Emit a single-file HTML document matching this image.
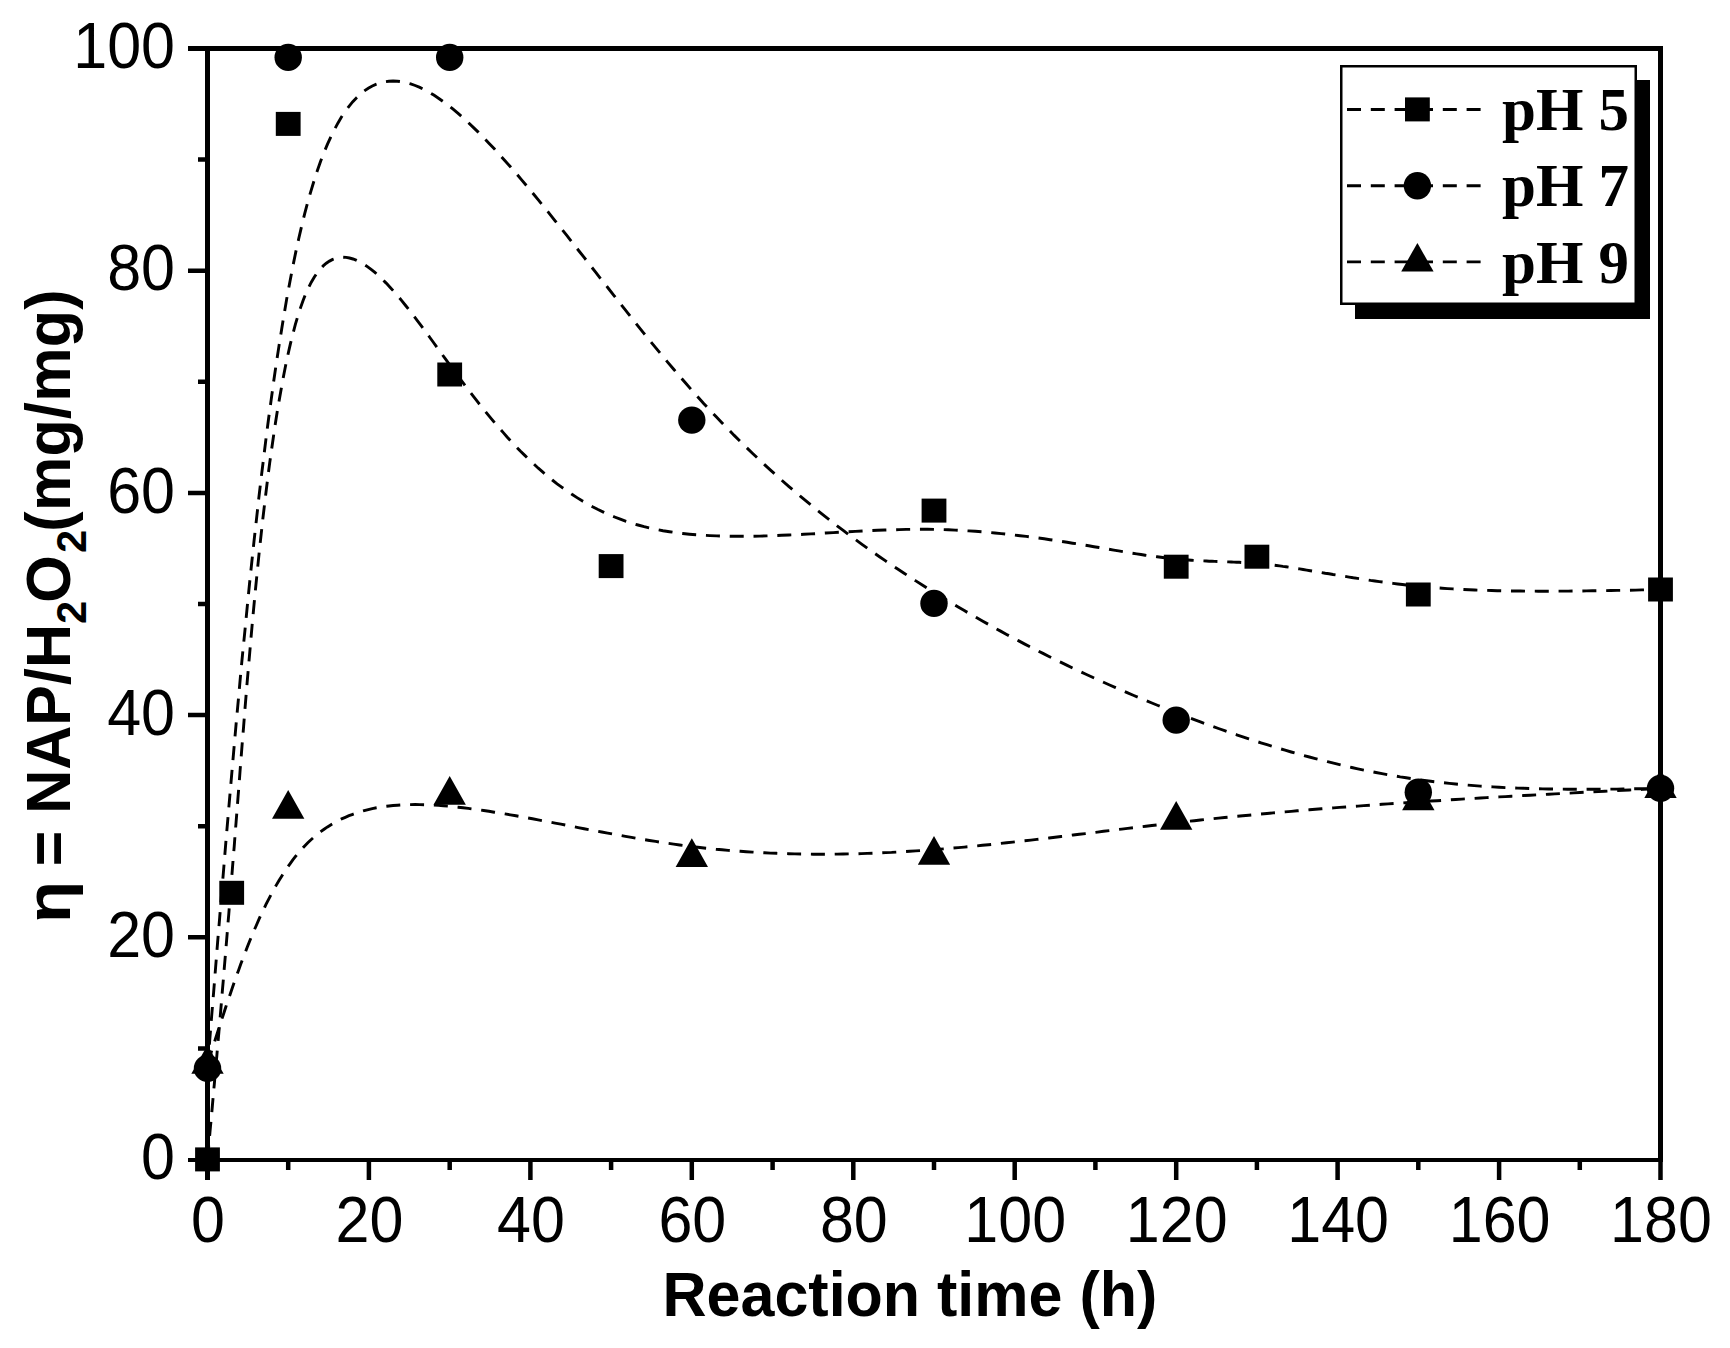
<!DOCTYPE html>
<html lang="en"><head><meta charset="utf-8"><title>NAP/H2O2 efficiency vs reaction time</title>
<style>html,body{margin:0;padding:0;background:#fff}body{width:1730px;height:1348px;overflow:hidden}svg{display:block}.t{font-family:"Liberation Sans",Arial,sans-serif;font-size:61px;fill:#000}.b{font-family:"Liberation Sans",Arial,sans-serif;font-size:61px;font-weight:bold;fill:#000}.l{font-family:"Liberation Serif","Times New Roman",serif;font-size:61px;font-weight:bold;fill:#000}.d{fill:none;stroke:#000;stroke-width:2.9;stroke-dasharray:14 9.8;stroke-linecap:butt}</style></head><body>
<svg width="1730" height="1348" viewBox="0 0 1730 1348">
<rect width="1730" height="1348" fill="#fff"/>
<g class="d">
<path d="M207.5,1159.5 L208.1,1152.8 L208.7,1146.2 L209.3,1139.5 L209.9,1132.8 L210.5,1126.0 L211.2,1119.2 L211.8,1112.4 L212.4,1105.5 L213.0,1098.6 L213.6,1091.5 L214.3,1084.4 L214.9,1077.2 L215.6,1070.0 L216.2,1062.6 L216.9,1055.1 L217.5,1047.5 L218.2,1039.8 L218.9,1031.9 L219.6,1023.9 L220.3,1015.7 L221.0,1007.4 L221.7,998.9 L222.4,990.3 L223.2,981.4 L223.9,972.4 L224.7,963.2 L225.5,953.8 L226.3,944.1 L227.1,934.3 L227.9,924.2 L228.8,913.9 L229.6,903.3 L230.5,892.5 L231.4,881.5 L232.3,870.1 L233.2,858.5 L234.2,846.6 L235.1,834.4 L236.1,822.0 L237.1,809.2 L238.1,796.1 L239.2,782.7 L240.2,769.0 L241.3,755.1 L242.4,741.0 L243.6,726.7 L244.7,712.2 L245.9,697.6 L247.1,682.9 L248.4,668.0 L249.7,653.1 L251.0,638.1 L252.3,623.1 L253.7,608.1 L255.1,593.1 L256.6,578.1 L258.1,563.2 L259.6,548.5 L261.2,533.8 L262.8,519.2 L264.5,504.8 L266.2,490.7 L267.9,476.7 L269.7,462.9 L271.6,449.4 L273.5,436.2 L275.4,423.3 L277.4,410.7 L279.5,398.5 L281.6,386.6 L283.7,375.2 L285.9,364.1 L288.2,353.5 L290.5,343.4 L292.9,333.8 L295.3,324.7 L297.8,316.1 L300.4,308.1 L303.0,300.7 L305.7,293.9 L308.5,287.8 L311.3,282.2 L314.2,277.3 L317.1,272.9 L320.1,269.2 L323.2,265.9 L326.3,263.2 L329.5,261.1 L332.7,259.4 L336.0,258.2 L339.3,257.5 L342.7,257.2 L346.1,257.4 L349.5,258.0 L353.0,259.0 L356.6,260.3 L360.2,262.1 L363.8,264.2 L367.4,266.6 L371.1,269.3 L374.9,272.4 L378.6,275.7 L382.4,279.3 L386.2,283.1 L390.0,287.2 L393.9,291.5 L397.8,296.0 L401.7,300.6 L405.6,305.5 L409.6,310.5 L413.5,315.6 L417.5,320.8 L421.5,326.1 L425.5,331.5 L429.5,337.0 L433.5,342.5 L437.6,348.1 L441.6,353.7 L445.6,359.2 L449.7,364.8 L453.7,370.3 L457.7,375.7 L461.8,381.2 L465.8,386.5 L469.9,391.9 L474.0,397.2 L478.1,402.4 L482.2,407.6 L486.3,412.7 L490.4,417.7 L494.6,422.7 L498.8,427.6 L503.1,432.4 L507.3,437.2 L511.6,441.9 L516.0,446.5 L520.3,451.0 L524.8,455.4 L529.2,459.8 L533.8,464.0 L538.3,468.2 L542.9,472.2 L547.6,476.2 L552.3,480.0 L557.1,483.8 L562.0,487.4 L566.9,490.9 L571.9,494.3 L577.0,497.6 L582.1,500.8 L587.3,503.8 L592.6,506.7 L598.0,509.5 L603.4,512.1 L609.0,514.7 L614.6,517.0 L620.3,519.2 L626.1,521.3 L632.0,523.2 L638.0,525.0 L644.1,526.7 L650.3,528.1 L656.6,529.5 L663.0,530.7 L669.5,531.7 L676.0,532.7 L682.7,533.5 L689.4,534.2 L696.1,534.8 L703.0,535.2 L709.9,535.6 L716.8,535.9 L723.9,536.1 L730.9,536.3 L738.1,536.3 L745.2,536.3 L752.4,536.2 L759.7,536.1 L766.9,535.9 L774.2,535.6 L781.6,535.3 L788.9,535.0 L796.3,534.7 L803.7,534.3 L811.0,533.9 L818.4,533.5 L825.8,533.0 L833.2,532.6 L840.6,532.2 L848.0,531.8 L855.4,531.4 L862.7,531.0 L870.1,530.6 L877.4,530.3 L884.7,530.0 L891.9,529.8 L899.1,529.6 L906.3,529.4 L913.5,529.3 L920.5,529.3 L927.6,529.3 L934.6,529.4 L941.5,529.6 L948.4,529.8 L955.2,530.1 L962.0,530.5 L968.7,530.9 L975.3,531.3 L981.9,531.8 L988.4,532.4 L994.9,533.0 L1001.3,533.6 L1007.6,534.3 L1013.9,535.0 L1020.1,535.7 L1026.2,536.4 L1032.3,537.2 L1038.3,538.0 L1044.2,538.8 L1050.0,539.7 L1055.8,540.5 L1061.5,541.4 L1067.1,542.3 L1072.6,543.2 L1078.1,544.0 L1083.4,544.9 L1088.7,545.8 L1093.9,546.7 L1099.0,547.5 L1104.1,548.4 L1109.0,549.2 L1113.8,550.1 L1118.6,550.9 L1123.3,551.7 L1127.8,552.4 L1132.3,553.2 L1136.7,553.9 L1141.0,554.5 L1145.2,555.2 L1149.3,555.8 L1153.2,556.3 L1157.1,556.8 L1160.9,557.3 L1164.6,557.8 L1168.3,558.2 L1171.8,558.5 L1175.3,558.9 L1178.6,559.2 L1182.0,559.5 L1185.2,559.8 L1188.4,560.0 L1191.5,560.2 L1194.6,560.4 L1197.6,560.6 L1200.6,560.8 L1203.5,560.9 L1206.4,561.0 L1209.2,561.2 L1212.1,561.3 L1214.8,561.4 L1217.6,561.5 L1220.3,561.6 L1223.1,561.7 L1225.8,561.8 L1228.5,561.9 L1231.2,562.0 L1233.9,562.1 L1236.6,562.2 L1239.3,562.3 L1242.0,562.5 L1244.7,562.6 L1247.4,562.8 L1250.2,562.9 L1252.9,563.1 L1255.8,563.3 L1258.6,563.6 L1261.5,563.8 L1264.4,564.1 L1267.3,564.4 L1270.3,564.7 L1273.4,565.1 L1276.5,565.5 L1279.6,565.9 L1282.9,566.4 L1286.1,566.8 L1289.4,567.3 L1292.8,567.8 L1296.2,568.4 L1299.6,568.9 L1303.1,569.5 L1306.7,570.1 L1310.3,570.7 L1314.0,571.3 L1317.7,571.9 L1321.4,572.5 L1325.2,573.2 L1329.1,573.8 L1333.0,574.5 L1337.0,575.1 L1341.0,575.8 L1345.0,576.4 L1349.1,577.1 L1353.3,577.8 L1357.5,578.4 L1361.8,579.1 L1366.1,579.7 L1370.5,580.4 L1374.9,581.0 L1379.3,581.6 L1383.9,582.2 L1388.4,582.8 L1393.0,583.4 L1397.7,584.0 L1402.4,584.5 L1407.2,585.1 L1412.0,585.6 L1416.9,586.1 L1421.8,586.6 L1426.8,587.0 L1431.8,587.4 L1437.0,587.8 L1442.2,588.2 L1447.5,588.6 L1452.9,588.9 L1458.3,589.2 L1463.7,589.5 L1469.2,589.7 L1474.8,590.0 L1480.3,590.2 L1486.0,590.3 L1491.6,590.5 L1497.3,590.7 L1503.0,590.8 L1508.8,590.9 L1514.6,591.0 L1520.4,591.0 L1526.3,591.1 L1532.2,591.1 L1538.1,591.2 L1544.1,591.2 L1550.0,591.2 L1556.1,591.1 L1562.1,591.1 L1568.1,591.1 L1574.2,591.0 L1580.3,591.0 L1586.4,590.9 L1592.5,590.8 L1598.6,590.7 L1604.8,590.6 L1610.9,590.5 L1617.1,590.4 L1623.3,590.3 L1629.5,590.2 L1635.7,590.1 L1641.9,589.9 L1648.1,589.8 L1654.3,589.7 L1660.5,589.6"/>
<path d="M207.5,1068.4 L209.5,1043.1 L211.5,1017.9 L213.6,992.6 L215.6,967.5 L217.6,942.4 L219.7,917.3 L221.7,892.4 L223.8,867.5 L225.8,842.8 L227.9,818.3 L230.0,793.9 L232.1,769.6 L234.2,745.6 L236.3,721.8 L238.5,698.2 L240.6,674.8 L242.8,651.7 L245.1,628.8 L247.3,606.2 L249.5,584.0 L251.8,562.0 L254.1,540.4 L256.5,519.1 L258.8,498.2 L261.2,477.7 L263.7,457.5 L266.1,437.8 L268.6,418.5 L271.2,399.6 L273.7,381.2 L276.3,363.3 L279.0,345.9 L281.7,328.9 L284.4,312.5 L287.1,296.6 L290.0,281.3 L292.8,266.6 L295.7,252.4 L298.7,238.8 L301.7,225.9 L304.7,213.6 L307.8,201.9 L311.0,190.8 L314.2,180.3 L317.4,170.4 L320.7,161.1 L324.1,152.3 L327.5,144.1 L331.0,136.5 L334.5,129.4 L338.0,122.9 L341.6,116.8 L345.3,111.3 L349.0,106.3 L352.8,101.7 L356.6,97.7 L360.4,94.1 L364.3,90.9 L368.3,88.2 L372.3,86.0 L376.4,84.2 L380.5,82.8 L384.6,81.8 L388.9,81.2 L393.1,81.0 L397.4,81.2 L401.8,81.8 L406.2,82.7 L410.7,83.9 L415.2,85.5 L419.8,87.4 L424.4,89.7 L429.0,92.2 L433.8,95.1 L438.5,98.2 L443.3,101.6 L448.2,105.3 L453.1,109.2 L458.1,113.4 L463.1,117.8 L468.2,122.5 L473.3,127.4 L478.5,132.4 L483.7,137.7 L488.9,143.2 L494.3,148.8 L499.6,154.7 L505.0,160.7 L510.4,166.8 L515.9,173.1 L521.4,179.6 L526.9,186.1 L532.5,192.8 L538.1,199.7 L543.8,206.6 L549.4,213.6 L555.1,220.8 L560.9,228.0 L566.6,235.2 L572.4,242.6 L578.2,250.0 L584.1,257.4 L589.9,264.9 L595.8,272.4 L601.7,280.0 L607.7,287.5 L613.6,295.1 L619.5,302.7 L625.5,310.2 L631.5,317.8 L637.5,325.3 L643.5,332.8 L649.5,340.2 L655.6,347.6 L661.6,354.9 L667.6,362.1 L673.7,369.3 L679.7,376.4 L685.8,383.3 L691.8,390.2 L697.9,397.0 L703.9,403.7 L710.0,410.2 L716.0,416.6 L722.1,423.0 L728.2,429.2 L734.2,435.4 L740.3,441.4 L746.3,447.3 L752.4,453.2 L758.4,458.9 L764.5,464.6 L770.5,470.1 L776.6,475.6 L782.6,481.0 L788.7,486.3 L794.8,491.5 L800.8,496.6 L806.9,501.7 L812.9,506.7 L819.0,511.6 L825.0,516.4 L831.1,521.1 L837.1,525.8 L843.2,530.4 L849.2,535.0 L855.3,539.4 L861.3,543.8 L867.4,548.2 L873.5,552.5 L879.5,556.7 L885.6,560.9 L891.6,565.0 L897.7,569.0 L903.7,573.0 L909.8,577.0 L915.8,580.9 L921.9,584.7 L927.9,588.6 L934.0,592.3 L940.1,596.1 L946.1,599.8 L952.2,603.4 L958.2,607.0 L964.3,610.6 L970.3,614.1 L976.4,617.6 L982.4,621.0 L988.5,624.4 L994.5,627.8 L1000.6,631.1 L1006.6,634.4 L1012.7,637.7 L1018.8,640.9 L1024.8,644.1 L1030.9,647.2 L1036.9,650.3 L1043.0,653.4 L1049.0,656.5 L1055.1,659.5 L1061.1,662.4 L1067.2,665.4 L1073.2,668.3 L1079.3,671.1 L1085.4,674.0 L1091.4,676.8 L1097.5,679.5 L1103.5,682.3 L1109.6,685.0 L1115.6,687.6 L1121.7,690.3 L1127.7,692.9 L1133.8,695.5 L1139.8,698.0 L1145.9,700.5 L1151.9,703.0 L1158.0,705.5 L1164.1,707.9 L1170.1,710.3 L1176.2,712.7 L1182.2,715.0 L1188.3,717.4 L1194.3,719.6 L1200.4,721.9 L1206.4,724.1 L1212.5,726.3 L1218.5,728.5 L1224.6,730.6 L1230.7,732.8 L1236.7,734.8 L1242.8,736.9 L1248.8,738.9 L1254.9,740.9 L1260.9,742.8 L1267.0,744.7 L1273.0,746.6 L1279.1,748.4 L1285.1,750.2 L1291.2,752.0 L1297.2,753.7 L1303.3,755.4 L1309.4,757.0 L1315.4,758.6 L1321.5,760.2 L1327.5,761.7 L1333.6,763.2 L1339.6,764.7 L1345.7,766.1 L1351.7,767.5 L1357.8,768.8 L1363.8,770.1 L1369.9,771.3 L1376.0,772.5 L1382.0,773.7 L1388.1,774.8 L1394.1,775.8 L1400.2,776.9 L1406.2,777.8 L1412.3,778.8 L1418.3,779.6 L1424.5,780.5 L1430.7,781.3 L1437.0,782.0 L1443.2,782.7 L1449.4,783.4 L1455.6,784.0 L1461.8,784.6 L1468.0,785.1 L1474.2,785.6 L1480.4,786.1 L1486.6,786.5 L1492.8,786.9 L1499.1,787.3 L1505.3,787.6 L1511.5,787.9 L1517.7,788.1 L1523.9,788.3 L1530.1,788.5 L1536.3,788.7 L1542.5,788.9 L1548.7,789.0 L1554.9,789.1 L1561.1,789.1 L1567.4,789.2 L1573.6,789.2 L1579.8,789.3 L1586.0,789.3 L1592.2,789.2 L1598.4,789.2 L1604.6,789.2 L1610.8,789.1 L1617.0,789.1 L1623.2,789.0 L1629.4,788.9 L1635.7,788.8 L1641.9,788.7 L1648.1,788.6 L1654.3,788.5 L1660.5,788.4"/>
<path d="M207.5,1064.0 L209.5,1057.6 L211.5,1051.2 L213.6,1044.8 L215.6,1038.5 L217.6,1032.2 L219.7,1025.8 L221.7,1019.5 L223.8,1013.3 L225.8,1007.0 L227.9,1000.8 L230.0,994.7 L232.1,988.5 L234.2,982.5 L236.3,976.4 L238.5,970.5 L240.6,964.5 L242.8,958.7 L245.1,952.9 L247.3,947.1 L249.5,941.5 L251.8,935.9 L254.1,930.4 L256.5,925.0 L258.8,919.6 L261.2,914.4 L263.7,909.3 L266.1,904.2 L268.6,899.3 L271.2,894.4 L273.7,889.7 L276.3,885.1 L279.0,880.5 L281.7,876.2 L284.4,871.9 L287.1,867.8 L290.0,863.8 L292.8,859.9 L295.7,856.2 L298.7,852.6 L301.7,849.2 L304.7,845.9 L307.8,842.7 L311.0,839.7 L314.2,836.9 L317.4,834.2 L320.7,831.6 L324.1,829.2 L327.5,826.9 L331.0,824.7 L334.5,822.7 L338.0,820.7 L341.6,818.9 L345.3,817.3 L349.0,815.7 L352.8,814.3 L356.6,812.9 L360.4,811.7 L364.3,810.6 L368.3,809.6 L372.3,808.6 L376.4,807.8 L380.5,807.1 L384.6,806.5 L388.9,806.0 L393.1,805.5 L397.4,805.2 L401.8,804.9 L406.2,804.7 L410.7,804.6 L415.2,804.5 L419.8,804.6 L424.4,804.7 L429.0,804.9 L433.8,805.1 L438.5,805.4 L443.3,805.8 L448.2,806.2 L453.1,806.7 L458.1,807.2 L463.1,807.8 L468.2,808.4 L473.3,809.1 L478.5,809.8 L483.7,810.5 L488.9,811.3 L494.3,812.2 L499.6,813.0 L505.0,813.9 L510.4,814.9 L515.9,815.8 L521.4,816.8 L526.9,817.8 L532.5,818.8 L538.1,819.9 L543.8,821.0 L549.4,822.0 L555.1,823.1 L560.9,824.2 L566.6,825.3 L572.4,826.4 L578.2,827.6 L584.1,828.7 L589.9,829.8 L595.8,830.9 L601.7,832.0 L607.7,833.1 L613.6,834.2 L619.5,835.3 L625.5,836.4 L631.5,837.4 L637.5,838.5 L643.5,839.5 L649.5,840.5 L655.6,841.4 L661.6,842.4 L667.6,843.3 L673.7,844.1 L679.7,845.0 L685.8,845.8 L691.8,846.6 L697.9,847.3 L703.9,848.0 L710.0,848.6 L716.0,849.3 L722.1,849.8 L728.2,850.4 L734.2,850.9 L740.3,851.3 L746.3,851.7 L752.4,852.1 L758.4,852.5 L764.5,852.8 L770.5,853.1 L776.6,853.3 L782.6,853.6 L788.7,853.7 L794.8,853.9 L800.8,854.0 L806.9,854.1 L812.9,854.2 L819.0,854.2 L825.0,854.2 L831.1,854.2 L837.1,854.1 L843.2,854.0 L849.2,853.9 L855.3,853.8 L861.3,853.6 L867.4,853.4 L873.5,853.2 L879.5,852.9 L885.6,852.6 L891.6,852.4 L897.7,852.0 L903.7,851.7 L909.8,851.3 L915.8,850.9 L921.9,850.5 L927.9,850.1 L934.0,849.6 L940.1,849.1 L946.1,848.7 L952.2,848.1 L958.2,847.6 L964.3,847.1 L970.3,846.5 L976.4,845.9 L982.4,845.3 L988.5,844.7 L994.5,844.1 L1000.6,843.4 L1006.6,842.8 L1012.7,842.1 L1018.8,841.4 L1024.8,840.8 L1030.9,840.1 L1036.9,839.4 L1043.0,838.7 L1049.0,838.0 L1055.1,837.2 L1061.1,836.5 L1067.2,835.8 L1073.2,835.0 L1079.3,834.3 L1085.4,833.6 L1091.4,832.8 L1097.5,832.1 L1103.5,831.3 L1109.6,830.6 L1115.6,829.8 L1121.7,829.1 L1127.7,828.4 L1133.8,827.6 L1139.8,826.9 L1145.9,826.2 L1151.9,825.5 L1158.0,824.8 L1164.1,824.1 L1170.1,823.4 L1176.2,822.7 L1182.2,822.0 L1188.3,821.3 L1194.3,820.7 L1200.4,820.0 L1206.4,819.4 L1212.5,818.8 L1218.5,818.1 L1224.6,817.5 L1230.7,816.9 L1236.7,816.3 L1242.8,815.8 L1248.8,815.2 L1254.9,814.6 L1260.9,814.0 L1267.0,813.5 L1273.0,812.9 L1279.1,812.4 L1285.1,811.9 L1291.2,811.4 L1297.2,810.8 L1303.3,810.3 L1309.4,809.8 L1315.4,809.3 L1321.5,808.8 L1327.5,808.4 L1333.6,807.9 L1339.6,807.4 L1345.7,807.0 L1351.7,806.5 L1357.8,806.1 L1363.8,805.6 L1369.9,805.2 L1376.0,804.7 L1382.0,804.3 L1388.1,803.9 L1394.1,803.5 L1400.2,803.1 L1406.2,802.7 L1412.3,802.2 L1418.3,801.9 L1424.5,801.4 L1430.7,801.0 L1437.0,800.7 L1443.2,800.3 L1449.4,799.9 L1455.6,799.5 L1461.8,799.1 L1468.0,798.7 L1474.2,798.4 L1480.4,798.0 L1486.6,797.6 L1492.8,797.3 L1499.1,796.9 L1505.3,796.6 L1511.5,796.2 L1517.7,795.9 L1523.9,795.5 L1530.1,795.2 L1536.3,794.9 L1542.5,794.5 L1548.7,794.2 L1554.9,793.9 L1561.1,793.5 L1567.4,793.2 L1573.6,792.9 L1579.8,792.5 L1586.0,792.2 L1592.2,791.9 L1598.4,791.6 L1604.6,791.3 L1610.8,790.9 L1617.0,790.6 L1623.2,790.3 L1629.4,790.0 L1635.7,789.7 L1641.9,789.4 L1648.1,789.1 L1654.3,788.7 L1660.5,788.4"/>
</g>
<g stroke="#000" fill="none" stroke-linecap="butt">
<path stroke-width="5" d="M207.5,46.0 V1180 M1660.5,46.0 V1162.0"/>
<path stroke-width="5" d="M188,48.5 H1663.0"/>
<path stroke-width="4" d="M188,1160.0 H1663.0"/>
<path stroke-width="4.5" d="M198,1048.4 H207.5 M188,937.3 H207.5 M198,826.2 H207.5 M188,715.1 H207.5 M198,604.0 H207.5 M188,492.9 H207.5 M198,381.8 H207.5 M188,270.7 H207.5 M198,159.6 H207.5"/>
<path stroke-width="4.5" d="M288.2,1160.0 V1170 M368.9,1160.0 V1180 M449.7,1160.0 V1170 M530.4,1160.0 V1180 M611.1,1160.0 V1170 M691.8,1160.0 V1180 M772.6,1160.0 V1170 M853.3,1160.0 V1180 M934.0,1160.0 V1170 M1014.7,1160.0 V1180 M1095.4,1160.0 V1170 M1176.2,1160.0 V1180 M1256.9,1160.0 V1170 M1337.6,1160.0 V1180 M1418.3,1160.0 V1170 M1499.1,1160.0 V1180 M1579.8,1160.0 V1170 M1660.5,1160.0 V1180"/>
</g>
<g fill="#000">
<rect x="195.1" y="1147.4" width="24.8" height="24"/>
<rect x="219.3" y="880.8" width="24.8" height="24"/>
<rect x="275.8" y="111.9" width="24.8" height="24"/>
<rect x="437.3" y="362.5" width="24.8" height="24"/>
<rect x="598.7" y="554.1" width="24.8" height="24"/>
<rect x="921.6" y="498.6" width="24.8" height="24"/>
<rect x="1163.8" y="554.7" width="24.8" height="24"/>
<rect x="1244.5" y="544.7" width="24.8" height="24"/>
<rect x="1405.9" y="582.5" width="24.8" height="24"/>
<rect x="1648.1" y="577.5" width="24.8" height="24"/>
<circle cx="207.5" cy="1068.4" r="13.7"/>
<circle cx="288.2" cy="57.4" r="13.7"/>
<circle cx="449.7" cy="57.4" r="13.7"/>
<circle cx="691.8" cy="420.1" r="13.7"/>
<circle cx="934.0" cy="603.4" r="13.7"/>
<circle cx="1176.2" cy="720.1" r="13.7"/>
<circle cx="1418.3" cy="792.3" r="13.7"/>
<circle cx="1660.5" cy="788.4" r="13.7"/>
<path d="M207.5,1045.0 L223.7,1073.7 L191.3,1073.7Z"/>
<path d="M288.2,790.0 L304.4,818.7 L272.0,818.7Z"/>
<path d="M449.7,776.1 L465.9,804.8 L433.5,804.8Z"/>
<path d="M691.8,838.3 L708.0,867.0 L675.6,867.0Z"/>
<path d="M934.0,836.1 L950.2,864.8 L917.8,864.8Z"/>
<path d="M1176.2,801.1 L1192.4,829.8 L1160.0,829.8Z"/>
<path d="M1418.3,781.6 L1434.5,810.3 L1402.1,810.3Z"/>
<path d="M1660.5,769.4 L1676.7,798.1 L1644.3,798.1Z"/>
</g>
<g class="t">
<text transform="translate(175,1179.1) scale(1,1.05)" text-anchor="end">0</text>
<text transform="translate(175,956.9) scale(1,1.05)" text-anchor="end">20</text>
<text transform="translate(175,734.7) scale(1,1.05)" text-anchor="end">40</text>
<text transform="translate(175,512.5) scale(1,1.05)" text-anchor="end">60</text>
<text transform="translate(175,290.3) scale(1,1.05)" text-anchor="end">80</text>
<text transform="translate(175,68.1) scale(1,1.05)" text-anchor="end">100</text>
<text transform="translate(208.0,1241.6) scale(1,1.05)" text-anchor="middle">0</text>
<text transform="translate(369.4,1241.6) scale(1,1.05)" text-anchor="middle">20</text>
<text transform="translate(530.9,1241.6) scale(1,1.05)" text-anchor="middle">40</text>
<text transform="translate(692.3,1241.6) scale(1,1.05)" text-anchor="middle">60</text>
<text transform="translate(853.8,1241.6) scale(1,1.05)" text-anchor="middle">80</text>
<text transform="translate(1015.2,1241.6) scale(1,1.05)" text-anchor="middle">100</text>
<text transform="translate(1176.7,1241.6) scale(1,1.05)" text-anchor="middle">120</text>
<text transform="translate(1338.1,1241.6) scale(1,1.05)" text-anchor="middle">140</text>
<text transform="translate(1499.6,1241.6) scale(1,1.05)" text-anchor="middle">160</text>
<text transform="translate(1661.0,1241.6) scale(1,1.05)" text-anchor="middle">180</text>
</g>
<text class="b" transform="translate(662.5,1316.3) scale(1,1.02)">Reaction time (h)</text>
<g class="b" transform="translate(69.8,923) rotate(-90) scale(1,1.04)"><text transform="scale(1.13,1)" x="0" y="0">η</text><text x="56.7" y="0">= NAP/H</text><text x="298.9" y="15.5" font-size="41.5">2</text><text x="320.3" y="0">O</text><text x="369.9" y="15.5" font-size="41.5">2</text><text x="391.3" y="0" textLength="242.4" lengthAdjust="spacing">(mg/mg)</text></g>
<rect x="1355" y="80" width="295" height="239" fill="#000"/>
<rect x="1341.25" y="66.25" width="294.5" height="237.5" fill="#fff" stroke="#000" stroke-width="2.5"/>
<path class="d" d="M1347,109.5 H1417 M1419,109.5 H1481"/>
<path class="d" d="M1347,185.7 H1417 M1419,185.7 H1481"/>
<path class="d" d="M1347,261.9 H1417 M1419,261.9 H1481"/>
<rect x="1405.0" y="97.4" width="24.8" height="24" fill="#000"/>
<circle cx="1417.4" cy="185.7" r="13.7" fill="#000"/>
<g fill="#000"><path d="M1417.4,242.9 L1433.6,271.6 L1401.2,271.6Z"/></g>
<text class="l" x="1502" y="130.1">pH 5</text>
<text class="l" x="1502" y="206.3">pH 7</text>
<text class="l" x="1502" y="282.5">pH 9</text>
</svg></body></html>
